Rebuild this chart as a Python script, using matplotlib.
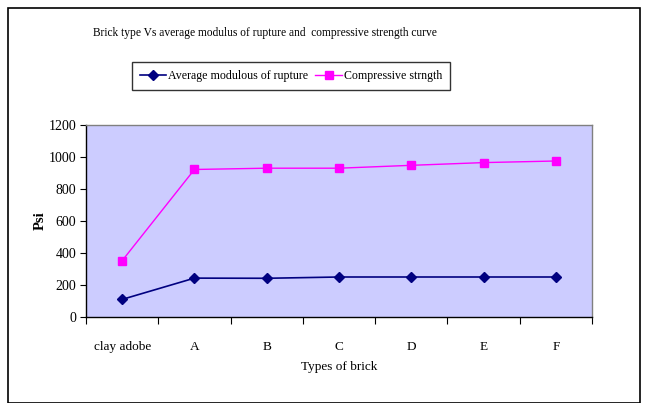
import matplotlib
matplotlib.use("Agg")
import matplotlib.pyplot as plt
from matplotlib.patches import Rectangle

categories = ["clay adobe", "A", "B", "C", "D", "E", "F"]
modulus_rupture = [110, 243, 242, 250, 250, 250, 250]
compressive = [352, 922, 930, 930, 948, 965, 975]
yticks = [0, 200, 400, 600, 800, 1000, 1200]

plt.rcParams['font.family'] = ['Liberation Serif', 'DejaVu Serif']

W, H = 646, 403
fig = plt.figure(figsize=(W/100, H/100), dpi=100)
fig.patches.append(Rectangle((8/W, 0), (640-8)/W, (403-8)/H, transform=fig.transFigure,
                             fill=False, edgecolor='black', linewidth=1.2))

left, right, top, bottom = 86, 592, 125, 317
ax = fig.add_axes([left/W, 1-bottom/H, (right-left)/W, (bottom-top)/H])
ax.set_facecolor('#CCCCFF')

x = list(range(len(categories)))
ax.plot(x, modulus_rupture, color='#000080', marker='D', markersize=5.5, linewidth=1.2,
        label='Average modulous of rupture')
ax.plot(x, compressive, color='#FF00FF', marker='s', markersize=6, linewidth=1.0,
        label='Compressive strngth')

ax.set_xlim(-0.5, len(categories) - 0.5)
ax.set_ylim(0, 1200)
ax.set_yticks(yticks)
ax.set_yticklabels([str(v) for v in yticks], fontsize=10)
ax.set_xticks([i - 0.5 for i in range(len(categories) + 1)])
ax.set_xticklabels([])
ax.set_xticks(x, minor=True)
ax.set_xticklabels(categories, minor=True, fontsize=9.5)
ax.tick_params(axis='x', which='minor', length=0, pad=17)
ax.tick_params(axis='x', which='major', length=5, direction='out')
ax.tick_params(axis='y', length=4, direction='out', pad=3)

for s in ['left', 'bottom']:
    ax.spines[s].set_color('black')
    ax.spines[s].set_linewidth(1.0)
for s in ['top', 'right']:
    ax.spines[s].set_color('#808080')
    ax.spines[s].set_linewidth(1.0)

ax.set_xlabel('Types of brick', fontsize=9.5, labelpad=6)
ax.set_ylabel('Psi', fontsize=10.5, fontweight='bold', labelpad=1)

fig.text(265/W, 1-33/H, 'Brick type Vs average modulus of rupture and  compressive strength curve',
         ha='center', va='center', fontsize=8.3)

leg = fig.legend(loc='center', bbox_to_anchor=(291/W, 1-76/H), ncol=2, fontsize=8.6,
                 frameon=True, fancybox=False, edgecolor='black', handlelength=2.2,
                 handletextpad=0.2, columnspacing=0.6, borderpad=0.65)
leg.get_frame().set_linewidth(1.0)

fig.savefig('out.png', dpi=100)
